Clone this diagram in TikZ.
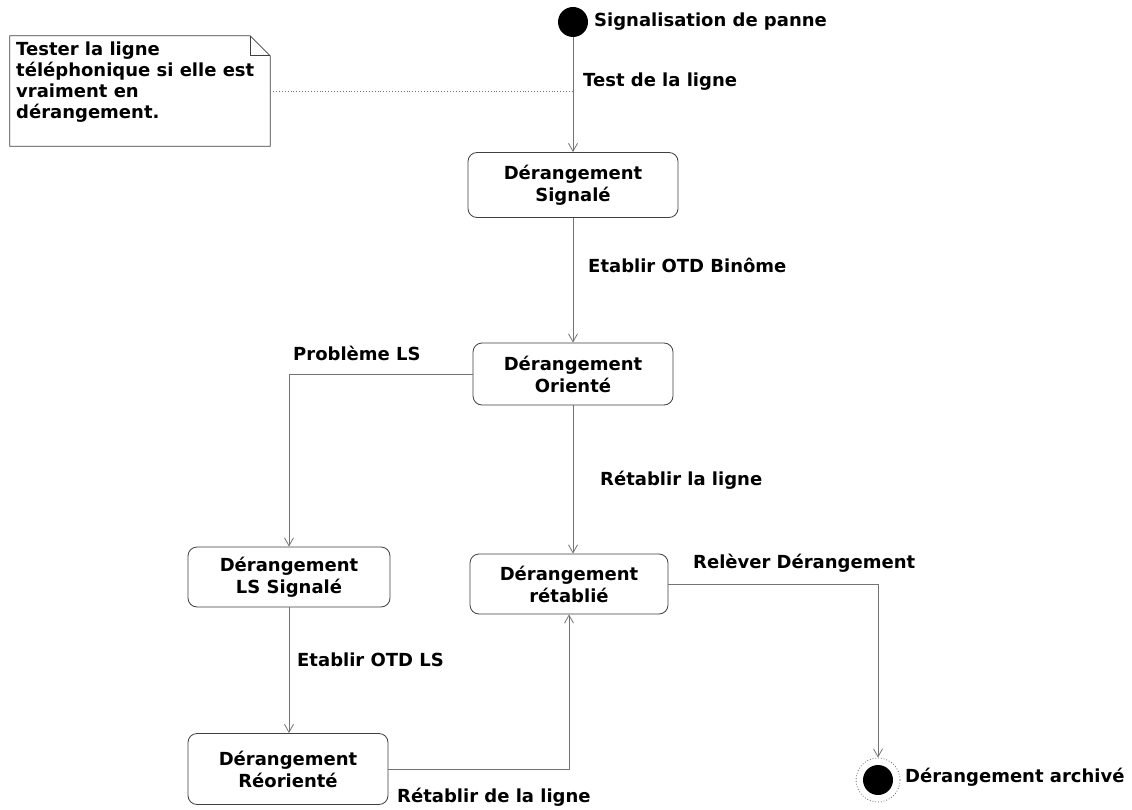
\documentclass[tikz,border=0pt]{standalone}
\usepackage{fontspec}
\setmainfont{DejaVu Sans}
\usetikzlibrary{arrows.meta}
\begin{document}
\begin{tikzpicture}[x=1pt,y=-1pt,
  every node/.style={font=\bfseries\fontsize{18}{22}\selectfont},
  stbox/.style={draw=black!75, line width=0.8pt, rounded corners=9pt, align=center, inner sep=0pt},
  trans/.style={draw=black!55, line width=0.8pt, -{Straight Barb[length=8pt,width=9pt]}},
  anchorline/.style={draw=black!55, line width=0.9pt, dotted},
  notebox/.style={draw=black!75, line width=0.8pt},
  lbl/.style={anchor=west, inner sep=0pt},
  initst/.style={circle, fill=black, minimum size=30pt, inner sep=0pt},
  finalst/.style={circle, draw=black!60, dotted, line width=0.8pt, minimum size=44pt, inner sep=0pt,
    path picture={\fill[black] (path picture bounding box.center) circle (15pt);}},
  ]
\useasboundingbox[fill=white] (0,0) rectangle (1132,810);

% initial and final pseudo-states
\node[initst] (init) at (573,22) {};
\node[finalst] (fin) at (878,780) {};

% states
\node[stbox, minimum width=210pt, minimum height=65pt] (sig) at (573,185) {Dérangement\\Signalé};
\node[stbox, minimum width=200pt, minimum height=62pt] (ori) at (573,374) {Dérangement\\Orienté};
\node[stbox, minimum width=202pt, minimum height=60pt] (lss) at (289,577) {Dérangement\\LS Signalé};
\node[stbox, minimum width=198pt, minimum height=60pt] (ret) at (569,584) {Dérangement\\rétablié};
\node[stbox, minimum width=200pt, minimum height=71pt] (reo) at (288,769) {Dérangement\\Réorienté};

% comment note with folded corner
\node[minimum width=260pt, minimum height=110pt, inner sep=0pt] (note) at (140,91) {};
\draw[notebox] (note.north west) -- ([xshift=-20pt]note.north east)
  -- ([yshift=-20pt]note.north east) -- (note.south east) -- (note.south west) -- cycle;
\draw[notebox] ([xshift=-20pt]note.north east) |- ([yshift=-20pt]note.north east);
\node[anchor=north west, align=left, inner sep=0pt, font=\bfseries\fontsize{18}{21}\selectfont]
  (notetext) at (16,42) {Tester la ligne\\téléphonique si elle est\\vraiment en\\dérangement.};

% transitions
\draw[trans] (init) -- (sig) coordinate[pos=0.49] (tmid);
\draw[anchorline] (note.east) -- (note.east -| tmid);
\draw[trans] (sig) -- (ori);
\draw[trans] (ori.west) -| (lss.north);
\draw[trans] (ori.south) -- (ori.south |- ret.north);
\draw[trans] (lss.south) -- (lss.south |- reo.north);
\draw[trans] (reo.east) -| (ret.south);
\draw[trans] (ret.east) -| (fin.north);

% labels
\node[lbl] (l0) at (594,22) {Signalisation de panne};
\node[lbl] (l1) at (583,82) {Test de la ligne};
\node[lbl] (l2) at (588,265) {Etablir OTD Binôme};
\node[lbl] (l3) at (293,353) {Problème LS};
\node[lbl] (l4) at (600,480) {Rétablir la ligne};
\node[lbl] (l5) at (693,563) {Relèver Dérangement};
\node[lbl] (l6) at (297,660) {Etablir OTD LS};
\node[lbl] (l7) at (397,797) {Rétablir de la ligne};
\node[lbl] (l8) at (905,777) {Dérangement archivé};
\end{tikzpicture}
\end{document}
